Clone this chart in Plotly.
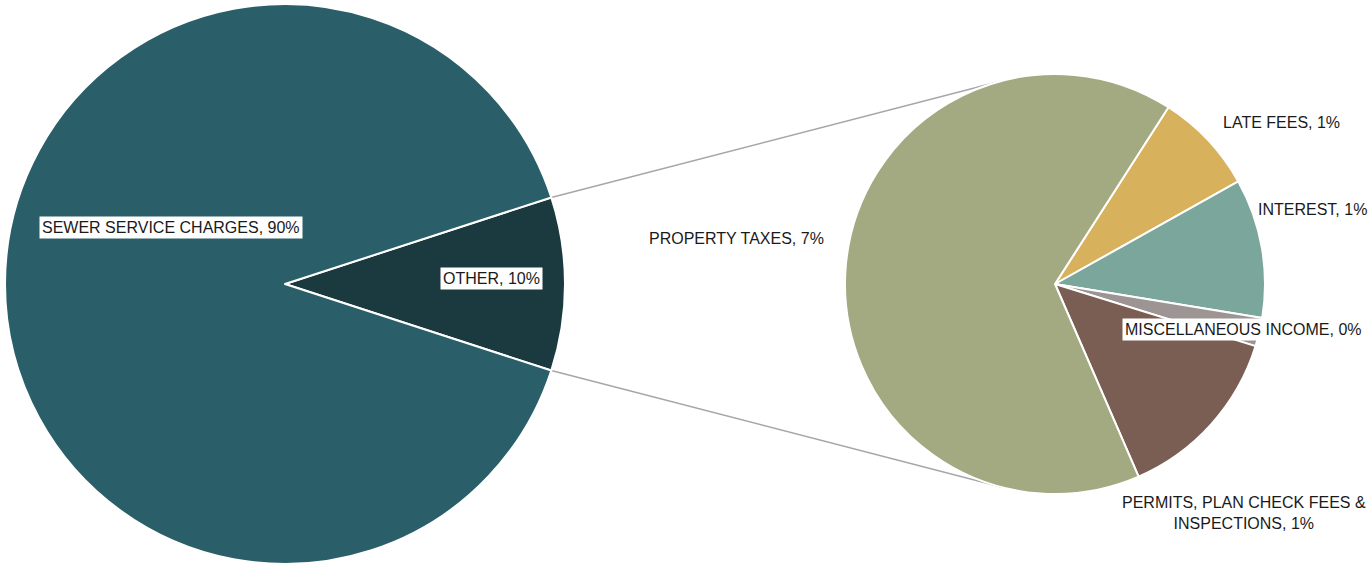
import math
import plotly.graph_objects as go

W, H = 1369, 564

# ---- data ----
main_labels = ["OTHER", "SEWER SERVICE CHARGES"]
main_values = [10.0, 90.0]
sub_labels = ["LATE FEES", "INTEREST", "MISCELLANEOUS INCOME",
              "PERMITS, PLAN CHECK FEES & INSPECTIONS", "PROPERTY TAXES"]
sub_values = [0.78, 1.07, 0.22, 1.37, 6.56]

# ---- styles ----
main_colors = ["#1B3A40", "#2A5F69"]
sub_colors = ["#D8B15C", "#7BA69B", "#9D9494", "#7A5E53", "#A3AA81"]
FONT = "Liberation Sans, Arial, sans-serif"
FS = 16

dom1 = dict(x=[0, 570 / W], y=[0, 560 / H])
dom2 = dict(x=[845 / W, 1265 / W], y=[70 / H, 490 / H])

total = sum(main_values)
other_deg = 360 * main_values[0] / total
rot1 = 90 - other_deg / 2          # centre the OTHER slice on 3 o'clock
rot2 = 32.7

fig = go.Figure()
fig.add_trace(go.Pie(labels=main_labels, values=main_values, sort=False,
                     direction="clockwise", rotation=rot1, domain=dom1,
                     marker=dict(colors=main_colors, line=dict(color="white", width=2)),
                     textinfo="none", hoverinfo="label+percent"))
fig.add_trace(go.Pie(labels=sub_labels, values=sub_values, sort=False,
                     direction="clockwise", rotation=rot2, domain=dom2,
                     marker=dict(colors=sub_colors, line=dict(color="white", width=2)),
                     textinfo="none", hoverinfo="label+value"))


def geom(dom):
    x0, x1 = dom["x"][0] * W, dom["x"][1] * W
    y0, y1 = H - dom["y"][1] * H, H - dom["y"][0] * H
    return (x0 + x1) / 2, (y0 + y1) / 2, min(x1 - x0, y1 - y0) / 2


cx1, cy1, R1 = geom(dom1)
cx2, cy2, R2 = geom(dom2)


def pt(cx, cy, r, deg):
    a = math.radians(deg)
    return cx + r * math.sin(a), cy - r * math.cos(a)


def tangent(p, upper):
    dx, dy = p[0] - cx2, p[1] - cy2
    d = math.hypot(dx, dy)
    theta = math.degrees(math.atan2(dx, -dy))
    off = math.degrees(math.acos(R2 / d))
    return pt(cx2, cy2, R2, theta + off if upper else theta - off)


p_up = pt(cx1, cy1, R1, rot1)
p_dn = pt(cx1, cy1, R1, rot1 + other_deg)
shapes = []
for p, up in ((p_up, True), (p_dn, False)):
    q = tangent(p, up)
    shapes.append(dict(type="line", xref="paper", yref="paper",
                       x0=p[0] / W, y0=1 - p[1] / H, x1=q[0] / W, y1=1 - q[1] / H,
                       line=dict(color="#A6A6A6", width=1.5), layer="below"))

# ---- labels ----
def pct_text(label, value):
    return f"{label}, {round(value / total * 100)}%".replace("&", "&amp;")

main_text = [pct_text(l, v) for l, v in zip(main_labels, main_values)]
sub_text = [pct_text(l, v) for l, v in zip(sub_labels, sub_values)]
sub_text[3] = sub_text[3].replace("FEES &amp; ", "FEES &amp;<br>")

label_pos = {  # pixel centres, background flag
    main_text[0]: (491, 278, True),
    main_text[1]: (171, 227, True),
    sub_text[0]: (1281, 122, False),
    sub_text[1]: (1312, 209, False),
    sub_text[2]: (1243, 329, True),
    sub_text[3]: (1244, 513, False),
    sub_text[4]: (736, 238, False),
}
annotations = []
for txt, (x, y, bg) in label_pos.items():
    annotations.append(dict(text=txt, x=x / W, y=1 - y / H, xref="paper", yref="paper",
                            showarrow=False, xanchor="center", yanchor="middle",
                            font=dict(family=FONT, size=FS, color="#1A1A1A"),
                            bgcolor="white" if bg else "rgba(0,0,0,0)", borderpad=2))

fig.update_layout(width=W, height=H, margin=dict(l=0, r=0, t=0, b=0),
                  paper_bgcolor="white", plot_bgcolor="white", showlegend=False,
                  shapes=shapes, annotations=annotations,
                  font=dict(family=FONT, size=FS))
fig.write_html("out.html")
